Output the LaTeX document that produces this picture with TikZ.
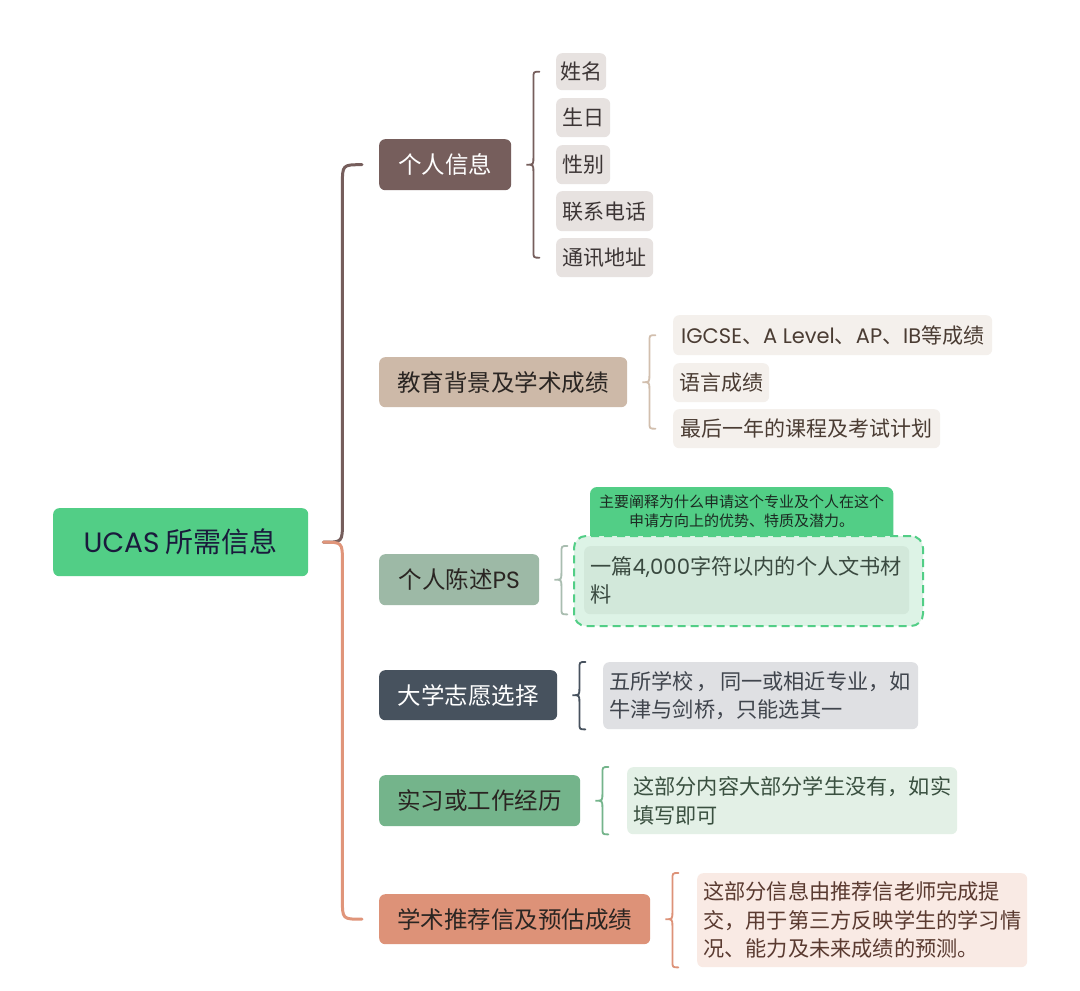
\documentclass[tikz,border=0pt]{standalone}
\usepackage{fontspec}
\setmainfont{Noto Sans CJK SC}
\newfontfamily\lat{Poppins}
\usetikzlibrary{calc,backgrounds}
\definecolor{rootg}{HTML}{52CE86}
\definecolor{roott}{HTML}{1A1A3C}
\definecolor{brownc}{HTML}{765E5C}
\definecolor{tanc}{HTML}{CDB9A8}
\definecolor{tanbr}{HTML}{D2BFAE}
\definecolor{psc}{HTML}{9DB9A6}
\definecolor{psbr}{HTML}{A9BDB0}
\definecolor{slatec}{HTML}{47525E}
\definecolor{greenc}{HTML}{74B48B}
\definecolor{orangec}{HTML}{DD9278}
\definecolor{orangeline}{HTML}{E0957A}
\definecolor{leafa}{HTML}{E7E2E0}
\definecolor{leafb}{HTML}{F4F0EC}
\definecolor{leafd}{HTML}{DFE0E3}
\definecolor{leafe}{HTML}{E3F0E6}
\definecolor{leaff}{HTML}{F9EAE4}
\definecolor{psouter}{HTML}{DDF3E6}
\definecolor{psinner}{HTML}{D2E8DA}
\definecolor{txa}{HTML}{3C3535}
\definecolor{txb}{HTML}{4A3C33}
\definecolor{txc}{HTML}{3A4A40}
\definecolor{txd}{HTML}{40454D}
\definecolor{txe}{HTML}{3A5040}
\definecolor{txf}{HTML}{5A3A30}
\definecolor{txdark}{HTML}{2A2522}
\definecolor{txco}{HTML}{1C2A22}
\newcommand\mybrace[4]{%
  \draw[brline, #1] let \p1=([xshift=15pt]#2.east), \p2=(#3), \p3=(#4) in
    (\x1+13pt,\y2) .. controls (\x1+7pt,\y2) .. (\x1+7pt,\y2-7pt) -- (\x1+7pt,\y1+7pt)
    .. controls (\x1+7pt,\y1) .. (\x1,\y1) .. controls (\x1+7pt,\y1) .. (\x1+7pt,\y1-7pt)
    -- (\x1+7pt,\y3+7pt) .. controls (\x1+7pt,\y3) .. (\x1+13pt,\y3);}
\begin{document}
\begin{tikzpicture}[x=1pt,y=-1pt,
  box/.style={anchor=north west, rounded corners=6pt, inner xsep=0pt, inner ysep=0pt, align=center},
  branch/.style={box, font=\fontsize{23.5}{27}\selectfont},
  leaf/.style={box, font=\fontsize{21}{28}\selectfont},
  mleaf/.style={anchor=north west, rounded corners=6pt, inner xsep=6pt, inner ysep=0pt, align=left, font=\fontsize{21.2}{28.5}\selectfont},
  mainline/.style={line width=3pt, line cap=round},
  brline/.style={line width=1.8pt, line cap=round}]
\useasboundingbox (0,0) rectangle (1080,991);
\begin{scope}[on background layer]
  \fill[white] (0,0) rectangle (1080,991);
\end{scope}

% root
\node[box, fill=rootg, text=roott, minimum width=255pt, minimum height=68pt,
  font=\fontsize{28}{32}\selectfont] (root) at (53,508) {{\lat UCAS} 所需信息};

% branches
\node[branch, fill=brownc, text=white, minimum width=132pt, minimum height=51pt] (n1) at (379,139) {个人信息};
\node[branch, fill=tanc, text=txdark, minimum width=248pt, minimum height=50pt] (n2) at (379,357) {教育背景及学术成绩};
\node[branch, fill=psc, text=txdark, minimum width=160pt, minimum height=51pt] (n3) at (379,554) {个人陈述{\lat PS}};
\node[branch, fill=slatec, text=white, minimum width=178pt, minimum height=50pt] (n4) at (379,670) {大学志愿选择};
\node[branch, fill=greenc, text=txdark, minimum width=201pt, minimum height=51pt] (n5) at (379,775) {实习或工作经历};
\node[branch, fill=orangec, text=txdark, minimum width=271pt, minimum height=50pt] (n6) at (379,894) {学术推荐信及预估成绩};

% main connectors
\draw[mainline, brownc] let \p1=([xshift=15pt]root.east), \p2=([xshift=-17pt]n1.west) in
  (\p1) .. controls (\x1+19pt,\y1) .. (\x1+19pt,\y1+20pt) -- (\x1+19pt,\y2-20pt)
  .. controls (\x1+19pt,\y2) .. (\p2);
\draw[mainline, orangeline] let \p1=([xshift=15pt]root.east), \p3=([xshift=-17pt]n6.west) in
  (\p1) .. controls (\x1+19pt,\y1) .. (\x1+19pt,\y1-20pt) -- (\x1+19pt,\y3+20pt)
  .. controls (\x1+19pt,\y3) .. (\p3);

% leaves: personal info
\node[leaf, fill=leafa, text=txa, minimum width=50pt, minimum height=37pt] (a1) at (556,53) {姓名};
\node[leaf, fill=leafa, text=txa, minimum width=54pt, minimum height=39pt] (a2) at (556,98) {生日};
\node[leaf, fill=leafa, text=txa, minimum width=54pt, minimum height=39pt] (a3) at (556,145) {性别};
\node[leaf, fill=leafa, text=txa, minimum width=97pt, minimum height=40pt] (a4) at (556,191) {联系电话};
\node[leaf, fill=leafa, text=txa, minimum width=97pt, minimum height=39pt] (a5) at (556,238) {通讯地址};

% leaves: education
\node[leaf, fill=leafb, text=txb, minimum width=319pt, minimum height=40pt, font=\fontsize{21}{28}\selectfont] (b1) at (673,315)
  {{\lat IGCSE}、{\lat A Level}、{\lat AP}、{\lat IB}等成绩};
\node[leaf, fill=leafb, text=txb, minimum width=96pt, minimum height=39pt] (b2) at (673,363) {语言成绩};
\node[leaf, fill=leafb, text=txb, minimum width=267pt, minimum height=39pt] (b3) at (673,409) {最后一年的课程及考试计划};

% PS group
\node[anchor=north west, inner sep=0pt, minimum width=303pt, minimum height=48pt, align=center,
  text=txco, font=\fontsize{15}{19}\selectfont] (co) at (590,487)
  {主要阐释为什么申请这个专业及个人在这个\\申请方向上的优势、特质及潜力。};
\begin{scope}[on background layer]
  \fill[rootg, rounded corners=7pt] (co.north west) rectangle ([yshift=-10pt]co.south east);
\end{scope}
\node[anchor=north west, inner sep=0pt, minimum width=349pt, minimum height=90pt, rounded corners=12pt,
  fill=psouter, draw=rootg, line width=2pt, dash pattern=on 8pt off 5pt] (psout) at (573,535) {};
\node[mleaf, fill=psinner, text=txc, text width=313pt, minimum height=68pt] (c1) at (584,546)
  {一篇{\lat 4,000}字符以内的个人文书材\\料};

% other leaves
\node[mleaf, fill=leafd, text=txd, text width=303pt, minimum height=67pt] (d1) at (603,662)
  {\mbox{五所学校\hspace{3pt}，\hspace{2pt}同一或相近专业，如}\\牛津与剑桥，只能选其一};
\node[mleaf, fill=leafe, text=txe, text width=318pt, minimum height=67pt] (e1) at (627,767)
  {这部分内容大部分学生没有，如实\\填写即可};
\node[mleaf, fill=leaff, text=txf, text width=318pt, minimum height=94pt] (f1) at (697,873)
  {这部分信息由推荐信老师完成提\\交，用于第三方反映学生的学习情\\况、能力及未来成绩的预测。};

% braces
\mybrace{brownc}{n1}{a1.west}{a5.west}
\mybrace{tanbr}{n2}{b1.west}{b3.west}
\mybrace{psbr}{n3}{c1.north west}{c1.south west}
\mybrace{slatec}{n4}{d1.north west}{d1.south west}
\mybrace{greenc}{n5}{e1.north west}{e1.south west}
\mybrace{orangec}{n6}{f1.north west}{f1.south west}
\end{tikzpicture}
\end{document}
